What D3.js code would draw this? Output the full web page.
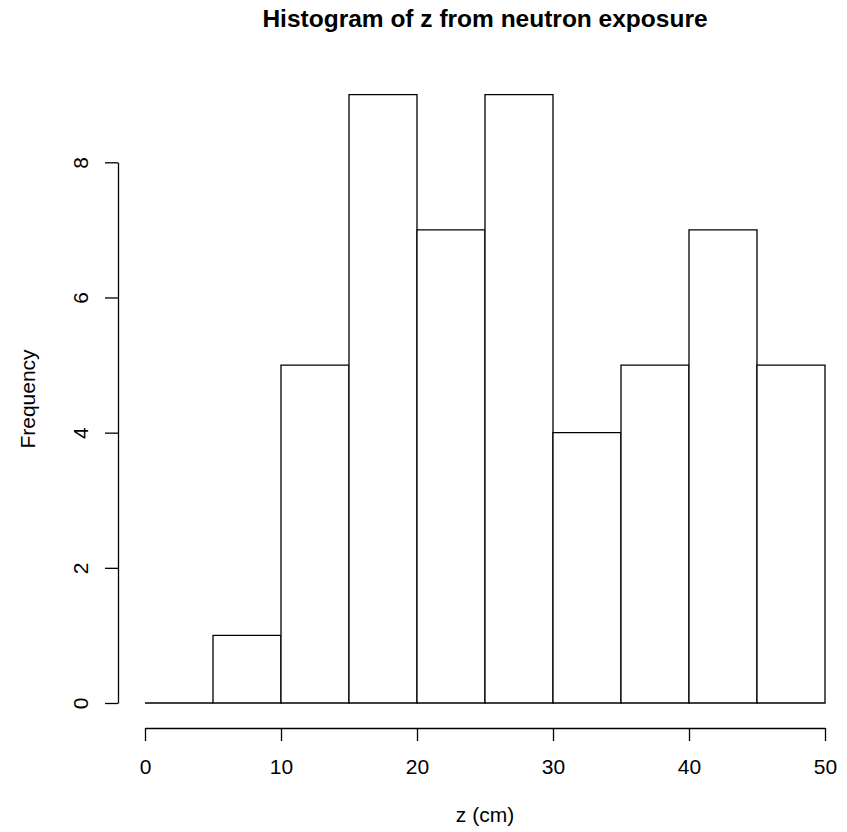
<!DOCTYPE html>
<html>
<head>
<meta charset="utf-8">
<script src="https://cdn.jsdelivr.net/npm/d3@7"></script>
<style>
  body { margin: 0; background: #fff; }
  text { font-family: "Liberation Sans", Arial, Helvetica, sans-serif; fill: #000; }
</style>
</head>
<body>
<div id="chart"></div>
<script>
// histogram bins (cm) and counts
const binStart = [0, 5, 10, 15, 20, 25, 30, 35, 40, 45];
const binEnd   = [5, 10, 15, 20, 25, 30, 35, 40, 45, 50];
const counts   = [0, 1, 5, 9, 7, 9, 4, 5, 7, 5];
const xTicks = [0, 10, 20, 30, 40, 50];
const yTicks = [0, 2, 4, 6, 8];

const width = 847, height = 832;

const svg = d3.select("#chart")
  .append("svg")
  .attr("width", width)
  .attr("height", height);

const x = d3.scaleLinear().domain([0, 50]).range([145, 825]);
const y = d3.scaleLinear().domain([0, 8]).range([703, 162.3]); // axis stops at 8, bars go past it

const bins = counts.map((c, i) => ({ x0: binStart[i], x1: binEnd[i], n: c }));

// bars as closed paths so an empty bin still shows as a flat line (like R)
svg.append("g")
  .selectAll("path")
  .data(bins)
  .join("path")
  .attr("d", d => {
    const p = d3.path();
    p.moveTo(x(d.x0), y(0));
    p.lineTo(x(d.x0), y(d.n));
    p.lineTo(x(d.x1), y(d.n));
    p.lineTo(x(d.x1), y(0));
    p.closePath();
    return p.toString();
  })
  .attr("fill", "#fff")
  .attr("stroke", "#000")
  .attr("stroke-width", 1.3);

// x axis, sits below the bars like R does
const gx = svg.append("g")
  .attr("transform", "translate(0,728)")
  .call(d3.axisBottom(x).tickValues(xTicks).tickSize(13).tickSizeOuter(0));
gx.selectAll("text").attr("y", 46).attr("dy", null).style("font-size", "21px");

// y axis with rotated labels
const gy = svg.append("g")
  .attr("transform", "translate(118,0)")
  .call(d3.axisLeft(y).tickValues(yTicks).tickSize(13).tickSizeOuter(0));
gy.selectAll("text")
  .attr("x", null).attr("dy", null)
  .attr("text-anchor", "middle")
  .attr("transform", "translate(-30,0) rotate(-90)")
  .style("font-size", "21px");

svg.selectAll(".domain, .tick line").attr("stroke", "#000").attr("stroke-width", 1.3);

// titles
svg.append("text")
  .attr("x", 485).attr("y", 27)
  .attr("text-anchor", "middle")
  .style("font-size", "24.5px").style("font-weight", "bold")
  .text("Histogram of z from neutron exposure");

svg.append("text")
  .attr("x", 485).attr("y", 822)
  .attr("text-anchor", "middle")
  .style("font-size", "21px")
  .text("z (cm)");

svg.append("text")
  .attr("transform", "translate(35,399) rotate(-90)")
  .attr("text-anchor", "middle")
  .style("font-size", "21px")
  .text("Frequency");
</script>
</body>
</html>
